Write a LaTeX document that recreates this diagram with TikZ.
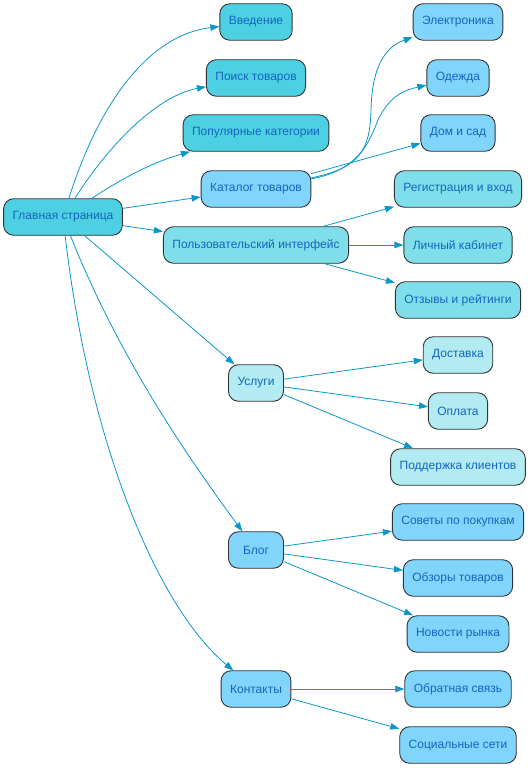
\documentclass[tikz,border=0pt]{standalone}
\usepackage{fontspec}
\setmainfont{Liberation Sans}
\usetikzlibrary{arrows.meta}
\definecolor{cA}{HTML}{4DD0E1}
\definecolor{cB}{HTML}{81D4FA}
\definecolor{cC}{HTML}{80DEEA}
\definecolor{cD}{HTML}{B2EBF2}
\definecolor{txt}{HTML}{1565C0}
\definecolor{edge}{HTML}{0A96CC}
\definecolor{bord}{HTML}{333333}
\begin{document}
\begin{tikzpicture}[x=1pt,y=-1pt,
  box/.style={draw=bord,line width=0.9pt,rounded corners=10pt,minimum height=36.5pt,
    minimum width=55pt,inner xsep=9pt,font=\fontsize{12}{14}\selectfont,text=txt},
  bA/.style={box,fill=cA},
  bB/.style={box,fill=cB},
  bC/.style={box,fill=cC},
  bD/.style={box,fill=cD},
  conn/.style={draw=edge,line width=0.8pt,-{Triangle[length=9pt,width=6.5pt]}}]
\useasboundingbox (0,0) rectangle (531,768);
\node[bA] (main) at (63,217) {Главная страница};
\node[bA] (intro) at (256,22) {Введение};
\node[bA] (search) at (256,78) {Поиск товаров};
\node[bA] (pop) at (256,133) {Популярные категории};
\node[bB] (cat) at (256,189) {Каталог товаров};
\node[bC] (ui) at (256,245) {Пользовательский интерфейс};
\node[bB] (elec) at (458,22) {Электроника};
\node[bB] (cloth) at (458,78) {Одежда};
\node[bB] (home) at (458,133) {Дом и сад};
\node[bC] (reg) at (458,189) {Регистрация и вход};
\node[bC] (acc) at (458,245) {Личный кабинет};
\node[bC] (rev) at (458,300) {Отзывы и рейтинги};
\node[bD] (serv) at (256,383) {Услуги};
\node[bD] (deliv) at (458,355) {Доставка};
\node[bD] (pay) at (458,411) {Оплата};
\node[bD] (supp) at (458,467) {Поддержка клиентов};
\node[bB] (blog) at (256,550) {Блог};
\node[bB] (tips) at (458,522) {Советы по покупкам};
\node[bB] (revw) at (458,578) {Обзоры товаров};
\node[bB] (news) at (458,634) {Новости рынка};
\node[bB] (cont) at (256,689) {Контакты};
\node[bB] (fb) at (458,689) {Обратная связь};
\node[bB] (soc) at (458,745) {Социальные сети};

\draw[conn] (main) .. controls (100,100) and (150,35) .. (intro);
\draw[conn] (main) .. controls (112,140) and (160,95) .. (search);
\draw[conn] (main) .. controls (120,180) and (150,163) .. (pop);
\draw[conn] (main) -- (cat);
\draw[conn] (main) -- (ui);
\draw[conn] (main) -- (serv);
\draw[conn] (main) .. controls (120,360) and (190,460) .. (blog);
\draw[conn] (main) .. controls (90,450) and (160,610) .. (cont);

\draw[conn] (cat) .. controls (360,168) and (370,150) .. (371,110) .. controls (372,60) and (390,45) .. (elec);
\draw[conn] (cat) .. controls (360,170) and (370,140) .. (378,120) .. controls (390,95) and (405,90) .. (cloth);
\draw[conn] (cat) -- (home);
\draw[conn] (ui) -- (reg);
\draw[conn] (ui) -- (acc);
\draw[conn] (ui) -- (rev);
\draw[conn] (serv) -- (deliv);
\draw[conn] (serv) -- (pay);
\draw[conn] (serv) -- (supp);
\draw[conn] (blog) -- (tips);
\draw[conn] (blog) -- (revw);
\draw[conn] (blog) -- (news);
\draw[conn] (cont) -- (fb);
\draw[conn] (cont) -- (soc);
\end{tikzpicture}
\end{document}
